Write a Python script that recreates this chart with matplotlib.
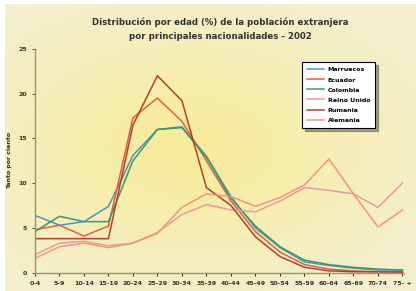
import numpy as np
import matplotlib.pyplot as plt

# Age groups and share (%) of each nationality
edades = ['0-4', '5-9', '10-14', '15-19', '20-24', '25-29', '30-34', '35-39',
          '40-44', '45-49', '50-54', '55-59', '60-64', '65-69', '70-74', '75- +']
marruecos = [6.4, 5.3, 5.7, 7.4, 13.1, 16.0, 16.3, 13.0, 8.5, 5.0, 2.8, 1.2, 0.8, 0.5, 0.3, 0.3]
ecuador = [4.8, 5.3, 4.1, 5.2, 17.3, 19.5, 16.9, 12.5, 8.0, 4.6, 2.3, 0.9, 0.4, 0.2, 0.1, 0.1]
colombia = [4.6, 6.3, 5.7, 5.7, 12.5, 16.0, 16.2, 12.9, 8.3, 5.2, 2.9, 1.4, 0.9, 0.6, 0.4, 0.3]
reino_unido = [2.0, 3.3, 3.5, 3.0, 3.3, 4.5, 6.5, 7.6, 7.0, 6.8, 8.0, 9.5, 9.2, 8.8, 7.3, 10.0]
rumania = [3.8, 3.8, 3.8, 3.8, 16.5, 22.0, 19.2, 9.5, 7.5, 4.0, 1.8, 0.6, 0.2, 0.1, 0.1, 0.05]
alemania = [1.6, 2.9, 3.3, 2.8, 3.3, 4.4, 7.3, 8.8, 8.5, 7.4, 8.4, 9.8, 12.7, 8.8, 5.1, 7.0]

series = [('Marruecos', marruecos, '#5a8fb4'),
          ('Ecuador', ecuador, '#e0603e'),
          ('Colombia', colombia, '#3a9a6e'),
          ('Reino Unido', reino_unido, '#e59aa6'),
          ('Rumania', rumania, '#b0402e'),
          ('Alemania', alemania, '#f0977a')]

fig = plt.figure(figsize=(4.16, 2.91), dpi=100, facecolor='white')

# yellowish radial background
bg = fig.add_axes([0.012, 0.0, 0.988, 0.985], zorder=-10)
yy, xx = np.mgrid[0:1:200j, 0:1:300j]
r = np.sqrt(((xx - 0.45) / 0.9) ** 2 + ((yy - 0.5) / 0.8) ** 2)
r = np.clip(r / 0.7, 0, 1)
c0 = np.array([248, 236, 150]) / 255
c1 = np.array([244, 239, 205]) / 255
img = c0[None, None, :] * (1 - r[..., None]) + c1[None, None, :] * r[..., None]
bg.imshow(img, aspect='auto', extent=[0, 1, 0, 1])
bg.axis('off')

ax = fig.add_axes([0.084, 0.063, 0.887, 0.769])
ax.patch.set_alpha(0)
x = np.arange(len(edades))
for nombre, vals, col in series:
    ax.plot(x, vals, color=col, lw=1.1, label=nombre)

ax.set_xlim(0, 15.06)
ax.set_ylim(0, 25)
ax.set_xticks(x)
ax.set_xticklabels(edades, fontsize=4.5, fontweight='bold', color='#333333')
ax.set_yticks([0, 5, 10, 15, 20, 25])
ax.tick_params(axis='y', labelsize=4.5, colors='#333333', length=2, width=0.6)
ax.tick_params(axis='x', length=2, width=0.6, pad=4)
for lbl in ax.get_yticklabels():
    lbl.set_fontweight('bold')
for s in ['top', 'right']:
    ax.spines[s].set_visible(False)
for s in ['left', 'bottom']:
    ax.spines[s].set_color('#a09070')
    ax.spines[s].set_linewidth(1.0)
ax.set_ylabel('Tanto por ciento', fontsize=4.5, fontweight='bold', color='#333333', labelpad=5)

fig.text(0.53, 0.898, 'Distribución por edad (%) de la población extranjera\npor principales nacionalidades - 2002',
         ha='center', va='center', fontsize=6.2, fontweight='bold', color='#333333', linespacing=1.7)

leg = ax.legend(loc='upper left', bbox_to_anchor=(0.715, 0.955), frameon=True,
                fancybox=False, shadow=True, handlelength=2.8, handletextpad=0.5,
                labelspacing=0.75, borderpad=0.8, prop={'size': 4.5, 'weight': 'bold'})
leg.get_frame().set_edgecolor('black')
leg.get_frame().set_linewidth(0.8)
leg.get_frame().set_facecolor('white')

fig.savefig('out.png', dpi=100)
